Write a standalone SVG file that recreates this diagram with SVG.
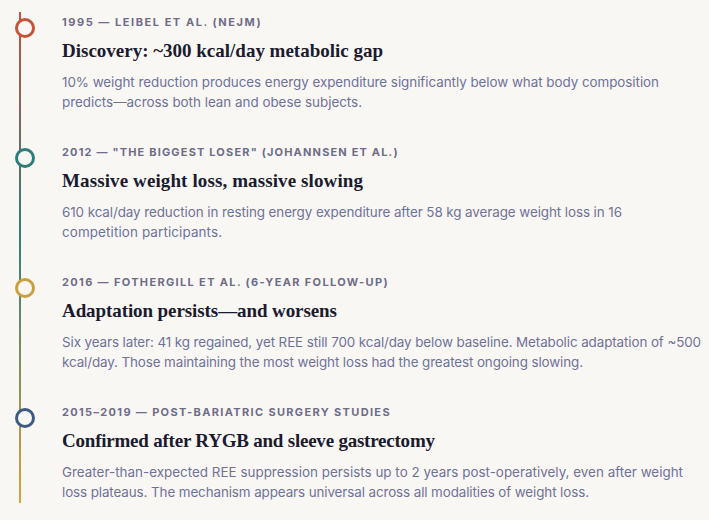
<svg xmlns="http://www.w3.org/2000/svg" width="709" height="520" viewBox="0 0 709 520">
<defs>
<linearGradient id="lineGrad" x1="0" y1="12" x2="0" y2="503" gradientUnits="userSpaceOnUse">
<stop offset="0" stop-color="#c2553a"/>
<stop offset="0.45" stop-color="#2e7d7a"/>
<stop offset="1" stop-color="#d6a43a"/>
</linearGradient>
<style>
.lbl{font-family:"Inter","Noto Sans",sans-serif;font-size:11px;font-weight:700;letter-spacing:1.4px;fill:#6e6c88}
.ttl{font-family:"Liberation Serif","Times New Roman",serif;font-size:19px;font-weight:700;fill:#1b1b2f}
.body{font-family:"Inter","Noto Sans",sans-serif;font-size:13.4px;fill:#6f7297}
.dot{fill:#f9f7f4;stroke-width:3}
</style>
</defs>
<rect width="709" height="520" fill="#f9f7f4"/>
<g id="connectors">
<line x1="20" y1="12" x2="20" y2="503" stroke="url(#lineGrad)" stroke-width="2"/>
</g>
<g id="item1">
<circle class="dot" cx="25" cy="28" r="8.5" stroke="#c2553a"/>
<text class="lbl" x="62" y="26" textLength="200">1995 — LEIBEL ET AL. (NEJM)</text>
<text class="ttl" x="62" y="57" textLength="321">Discovery: ~300 kcal/day metabolic gap</text>
<text class="body" x="62" y="87" textLength="597">10% weight reduction produces energy expenditure significantly below what body composition</text>
<text class="body" x="62" y="107" textLength="300">predicts—across both lean and obese subjects.</text>
</g>
<g id="item2">
<circle class="dot" cx="25" cy="158" r="8.5" stroke="#2e7d7a"/>
<text class="lbl" x="62" y="156" textLength="337">2012 — "THE BIGGEST LOSER" (JOHANNSEN ET AL.)</text>
<text class="ttl" x="62" y="187" textLength="301">Massive weight loss, massive slowing</text>
<text class="body" x="62" y="217" textLength="560">610 kcal/day reduction in resting energy expenditure after 58 kg average weight loss in 16</text>
<text class="body" x="62" y="237" textLength="160">competition participants.</text>
</g>
<g id="item3">
<circle class="dot" cx="25" cy="288" r="8.5" stroke="#c9a040"/>
<text class="lbl" x="62" y="286" textLength="327">2016 — FOTHERGILL ET AL. (6-YEAR FOLLOW-UP)</text>
<text class="ttl" x="62" y="317" textLength="275">Adaptation persists—and worsens</text>
<text class="body" x="62" y="347" textLength="639">Six years later: 41 kg regained, yet REE still 700 kcal/day below baseline. Metabolic adaptation of ~500</text>
<text class="body" x="62" y="367" textLength="521">kcal/day. Those maintaining the most weight loss had the greatest ongoing slowing.</text>
</g>
<g id="item4">
<circle class="dot" cx="25" cy="418" r="8.5" stroke="#3d5a80"/>
<text class="lbl" x="62" y="416" textLength="329">2015–2019 — POST-BARIATRIC SURGERY STUDIES</text>
<text class="ttl" x="62" y="447" textLength="373">Confirmed after RYGB and sleeve gastrectomy</text>
<text class="body" x="62" y="477" textLength="621">Greater-than-expected REE suppression persists up to 2 years post-operatively, even after weight</text>
<text class="body" x="62" y="497" textLength="527">loss plateaus. The mechanism appears universal across all modalities of weight loss.</text>
</g>
</svg>
